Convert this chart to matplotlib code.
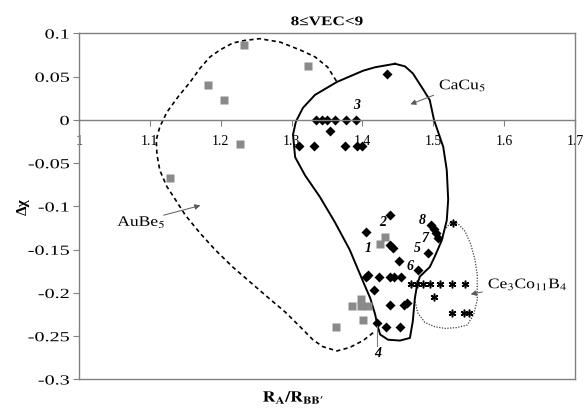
import matplotlib
matplotlib.use("Agg")
import matplotlib.pyplot as plt
from matplotlib.patheffects import AbstractPathEffect
from matplotlib.transforms import Affine2D

plt.rcParams['font.family'] = ['Liberation Serif', 'DejaVu Serif']
plt.rcParams['mathtext.fontset'] = 'stix'

# AuBe5 compounds (grey squares)
aube_x = [1.233, 1.182, 1.204, 1.227, 1.129, 1.323, 1.432, 1.425,
          1.385, 1.398, 1.398, 1.408, 1.401, 1.363]
aube_y = [0.087, 0.040, 0.023, -0.028, -0.067, 0.062, -0.135, -0.143,
          -0.215, -0.207, -0.215, -0.215, -0.231, -0.239]

# CaCu5 compounds (black diamonds)
cacu_x = [1.434,
          1.335, 1.343, 1.350, 1.361, 1.377, 1.391,
          1.354,
          1.310, 1.331, 1.375, 1.393, 1.399,
          1.439, 1.405, 1.439, 1.443, 1.451, 1.479, 1.492,
          1.497, 1.501, 1.504, 1.507,
          1.405, 1.408, 1.424, 1.439, 1.444, 1.455,
          1.417, 1.439, 1.459, 1.463,
          1.421, 1.433, 1.453]
cacu_y = [0.053,
          0.0, 0.0, 0.0, 0.0, 0.0, 0.0,
          -0.013,
          -0.030, -0.030, -0.030, -0.030, -0.030,
          -0.110, -0.130, -0.144, -0.148, -0.163, -0.173, -0.154,
          -0.121, -0.126, -0.131, -0.136,
          -0.182, -0.179, -0.182, -0.182, -0.182, -0.182,
          -0.196, -0.214, -0.214, -0.212,
          -0.235, -0.239, -0.239]

# Ce3Co11B4 compounds (asterisks)
ceco_x = [1.528, 1.469, 1.477, 1.486, 1.495, 1.509, 1.526, 1.545,
          1.501, 1.527, 1.543, 1.550]
ceco_y = [-0.119, -0.190, -0.190, -0.190, -0.190, -0.190, -0.190, -0.190,
          -0.205, -0.223, -0.223, -0.223]

# region outlines
cacu_bx = [1.446, 1.418, 1.401, 1.364, 1.333, 1.316, 1.306, 1.302, 1.305,
           1.319, 1.340, 1.361, 1.382, 1.401, 1.411, 1.418, 1.421, 1.425,
           1.436, 1.453, 1.467, 1.471, 1.474, 1.477, 1.481, 1.495, 1.502,
           1.512, 1.519, 1.521, 1.519, 1.514, 1.501, 1.495, 1.486, 1.471,
           1.460, 1.446]
cacu_by = [0.065, 0.061, 0.057, 0.044, 0.029, 0.014, -0.002, -0.017, -0.043,
           -0.064, -0.089, -0.118, -0.150, -0.187, -0.206, -0.225, -0.237,
           -0.248, -0.254, -0.255, -0.252, -0.233, -0.206, -0.191, -0.181,
           -0.170, -0.158, -0.139, -0.116, -0.092, -0.058, -0.031, 0.0,
           0.023, 0.035, 0.054, 0.062, 0.065]

aube_bx = [1.415, 1.401, 1.382, 1.364, 1.344, 1.330, 1.312, 1.291, 1.265,
           1.241, 1.217, 1.192, 1.171, 1.150, 1.136, 1.124, 1.114, 1.110,
           1.109, 1.114, 1.124, 1.140, 1.157, 1.171, 1.185, 1.199, 1.217,
           1.234, 1.255, 1.284, 1.312, 1.333, 1.351, 1.364]
aube_by = [-0.246, -0.255, -0.263, -0.267, -0.262, -0.254, -0.239, -0.222,
           -0.204, -0.187, -0.170, -0.150, -0.131, -0.110, -0.092, -0.077,
           -0.058, -0.040, -0.023, -0.008, 0.009, 0.027, 0.044, 0.060, 0.073,
           0.081, 0.089, 0.092, 0.094, 0.090, 0.081, 0.073, 0.061, 0.044]

ceco_bx = [1.518, 1.526, 1.535, 1.545, 1.553, 1.559, 1.562, 1.562, 1.557,
           1.548, 1.533, 1.517, 1.502, 1.488, 1.478, 1.474]
ceco_by = [-0.125, -0.117, -0.120, -0.129, -0.144, -0.162, -0.179, -0.208,
           -0.225, -0.237, -0.240, -0.241, -0.239, -0.234, -0.223, -0.208]

# numbered compounds
num_labels = ['1', '2', '3', '4', '5', '6', '7', '8']
num_x = [1.408, 1.429, 1.392, 1.421, 1.477, 1.467, 1.488, 1.484]
num_y = [-0.148, -0.119, 0.017, -0.270, -0.148, -0.169, -0.137, -0.116]


class Widen(AbstractPathEffect):
    """Stretch glyphs sideways, keeping the given edge (or centre) fixed."""

    def __init__(self, sx, anchor='center'):
        super().__init__()
        self.sx = sx
        self.anchor = anchor

    def draw_path(self, renderer, gc, tpath, affine, rgbFace=None):
        xs = tpath.vertices[:, 0]
        if len(xs) == 0:
            cx = 0.0
        elif self.anchor == 'left':
            cx = xs.min()
        elif self.anchor == 'right':
            cx = xs.max()
        else:
            cx = 0.5 * (xs.min() + xs.max())
        t = Affine2D().translate(-cx, 0).scale(self.sx, 1).translate(cx, 0) + affine
        renderer.draw_path(gc, tpath, t, rgbFace)


fig = plt.figure(figsize=(5.87, 4.08), dpi=100)
ax = fig.add_axes([0.1346, 0.0699, 0.845, 0.848])

grey = '#808080'

ax.plot(aube_bx, aube_by, color='black', lw=1.2, ls=(0, (2.5, 2)))
ax.plot(cacu_bx, cacu_by, color='black', lw=1.4)
ax.plot(ceco_bx, ceco_by, color='0.25', lw=0.9, ls=(0, (1, 1.2)))

ax.plot(aube_x, aube_y, 's', color='#8a8a8a', ms=6, mec='none')
ax.plot(cacu_x, cacu_y, 'D', color='black', ms=4.8, mec='none')
ax.plot(ceco_x, ceco_y, ls='none', marker=(6, 2, 0), color='black', ms=5.5, mew=1.1)

for t, x, y in zip(num_labels, num_x, num_y):
    ax.text(x, y, t, fontsize=10, fontweight='bold', fontstyle='italic',
            ha='center', va='center')
ax.plot([1.421, 1.421], [-0.238, -0.261], color=grey, lw=0.8)

arrow = dict(arrowstyle='-|>', color='0.35', lw=0.7, mutation_scale=8)
notes = [
    ax.annotate('AuBe$_5$', xy=(1.175, -0.098), xytext=(1.054, -0.118),
                fontsize=10.5, va='center', arrowprops=arrow),
    ax.annotate('CaCu$_5$', xy=(1.464, 0.017), xytext=(1.508, 0.040),
                fontsize=10.5, va='center', arrowprops=arrow),
    ax.annotate('Ce$_3$Co$_{11}$B$_4$', xy=(1.549, -0.202), xytext=(1.577, -0.190),
                fontsize=10.5, va='center', arrowprops=arrow),
]
for n in notes:
    n.set_path_effects([Widen(1.2, 'left')])

ax.set_xlim(1, 1.7)
ax.set_ylim(-0.3, 0.1)
ax.set_xticks([1, 1.1, 1.2, 1.3, 1.4, 1.5, 1.6, 1.7])
xlabels = ax.set_xticklabels(['1', '1.1', '1.2', '1.3', '1.4', '1.5', '1.6', '1.7'])
ax.set_yticks([0.1, 0.05, 0, -0.05, -0.1, -0.15, -0.2, -0.25, -0.3])
ylabels = ax.set_yticklabels(['0.1', '0.05', '0', '-0.05', '-0.1', '-0.15', '-0.2', '-0.25', '-0.3'])
for lbl in xlabels:
    lbl.set_path_effects([Widen(1.45, 'center')])
for lbl in ylabels:
    lbl.set_path_effects([Widen(1.45, 'right')])

for s in ax.spines.values():
    s.set_color(grey)
    s.set_linewidth(1.0)
ax.spines['bottom'].set_position(('data', 0))
ax.axhline(-0.3, color=grey, lw=1.0, clip_on=False)
ax.tick_params(axis='x', direction='out', length=4, color=grey, pad=7, labelsize=10)
ax.tick_params(axis='y', direction='out', length=4, color=grey, pad=3, labelsize=10)

title = ax.set_title('8≤VEC<9', fontsize=9.5, fontweight='bold', pad=6)
title.set_path_effects([Widen(1.3, 'center')])
ax.set_ylabel('Δχ', fontsize=11, fontweight='bold', labelpad=8)
xl = fig.text(0.5, 0.025, r'$\mathbf{R_A/R_{BB\prime}}$', fontsize=11, ha='center', va='center')
xl.set_path_effects([Widen(1.15, 'center')])

fig.savefig('out.png', dpi=100)
